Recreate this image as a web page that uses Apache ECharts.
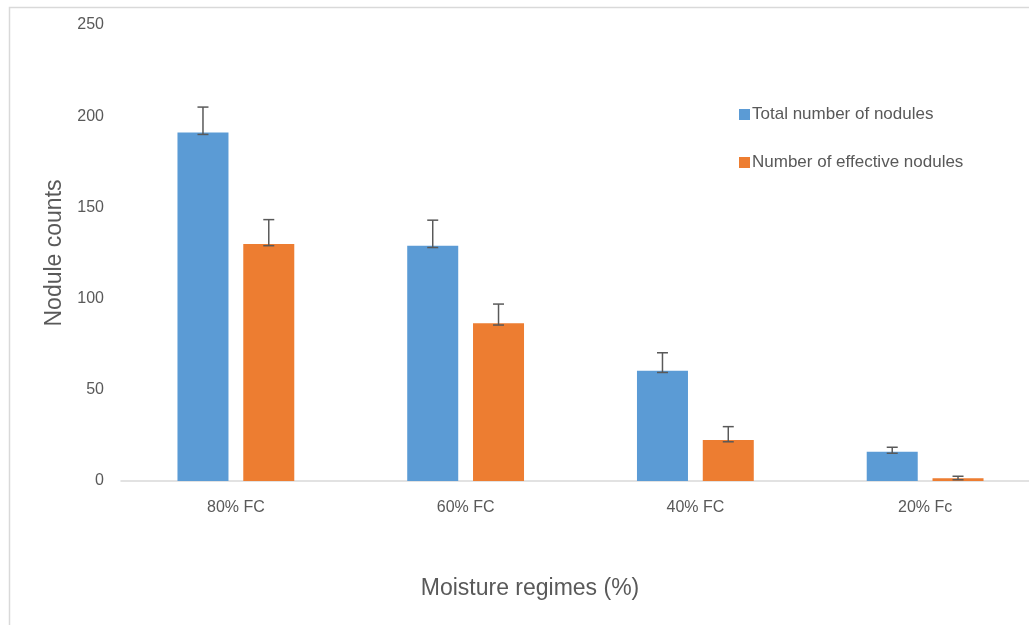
<!DOCTYPE html>
<html>
<head>
<meta charset="utf-8">
<script src="https://cdn.jsdelivr.net/npm/echarts@6/dist/echarts.min.js"></script>
<style>html,body{margin:0;padding:0;background:#fff;overflow:hidden;}#c{width:1045px;height:625px;}</style>
</head>
<body>
<div id="c"></div>
<script>
const categories = ['80% FC', '60% FC', '40% FC', '20% Fc'];
const seriesNames = ['Total number of nodules', 'Number of effective nodules'];
const totalNodules = [191, 129, 60.5, 16];
const effectiveNodules = [130, 86.5, 22.5, 1.5];
const totalErrLow = [190, 128, 59.5, 15.2];
const totalErrHigh = [205, 143, 70.3, 18.5];
const effErrLow = [129, 85.5, 21.5, 0.7];
const effErrHigh = [143.3, 97, 29.8, 2.6];
const yTicks = [0, 50, 100, 150, 200, 250];

const FONT = "'Liberation Sans Narrow', 'Arial Narrow', 'Liberation Sans', Arial, sans-serif";
const BAR_W = 0.222, BAR_GAP = 0.29;

function errSeries(low, high, sign) {
  return {
    type: 'custom',
    z: 10,
    silent: true,
    data: categories.map((c, i) => [i, low[i], high[i]]),
    renderItem: function (params, api) {
      const band = api.size([1, 0])[0];
      const off = sign * band * BAR_W * (1 + BAR_GAP) / 2;
      const lo = api.coord([api.value(0), api.value(1)]);
      const hi = api.coord([api.value(0), api.value(2)]);
      const x = lo[0] + off;
      const cap = 5.5;
      const st = { stroke: '#595959', lineWidth: 1.5 };
      return {
        type: 'group',
        children: [
          { type: 'line', shape: { x1: x, y1: lo[1], x2: x, y2: hi[1] }, style: st },
          { type: 'line', shape: { x1: x - cap, y1: lo[1], x2: x + cap, y2: lo[1] }, style: st },
          { type: 'line', shape: { x1: x - cap, y1: hi[1], x2: x + cap, y2: hi[1] }, style: st }
        ]
      };
    }
  };
}

const chart = echarts.init(document.getElementById('c'));
chart.setOption({
  animation: false,
  backgroundColor: '#fff',
  graphic: [{
    type: 'rect', silent: true, z: -1,
    shape: { x: 9.5, y: 7.5, width: 1200, height: 800 },
    style: { fill: 'none', stroke: '#d9d9d9', lineWidth: 1.5 }
  }, {
    type: 'text', silent: true,
    x: 530, y: 589,
    style: { text: 'Moisture regimes (%)', fontFamily: FONT, fontSize: 23, fill: '#595959', align: 'center', verticalAlign: 'middle' }
  }],
  grid: { left: 121, top: 25, width: 919, height: 456 },
  legend: {
    orient: 'vertical',
    left: 734, top: 101,
    itemWidth: 11, itemHeight: 11, itemGap: 31,
    icon: 'rect',
    textStyle: { fontFamily: FONT, fontSize: 17, color: '#595959', padding: [0, 0, 0, -3] },
    data: seriesNames
  },
  xAxis: {
    type: 'category',
    data: categories,
    axisLine: { lineStyle: { color: '#d9d9d9', width: 1.5 } },
    axisTick: { show: false },
    axisLabel: { fontFamily: FONT, fontSize: 16, color: '#595959', margin: 19 }
  },
  yAxis: {
    type: 'value',
    min: yTicks[0], max: yTicks[yTicks.length - 1], interval: 50,
    axisLine: { show: false },
    axisTick: { show: false },
    splitLine: { show: false },
    axisLabel: { fontFamily: FONT, fontSize: 16, color: '#595959', margin: 17 },
    name: 'Nodule counts',
    nameLocation: 'middle',
    nameGap: 55,
    nameTextStyle: { fontFamily: FONT, fontSize: 23, color: '#595959' }
  },
  series: [
    { name: seriesNames[0], type: 'bar', data: totalNodules, barWidth: (BAR_W * 100) + '%', barGap: (BAR_GAP * 100) + '%', itemStyle: { color: '#5B9BD5' } },
    { name: seriesNames[1], type: 'bar', data: effectiveNodules, barWidth: (BAR_W * 100) + '%', itemStyle: { color: '#ED7D31' } },
    errSeries(totalErrLow, totalErrHigh, -1),
    errSeries(effErrLow, effErrHigh, 1)
  ]
});
</script>
</body>
</html>
